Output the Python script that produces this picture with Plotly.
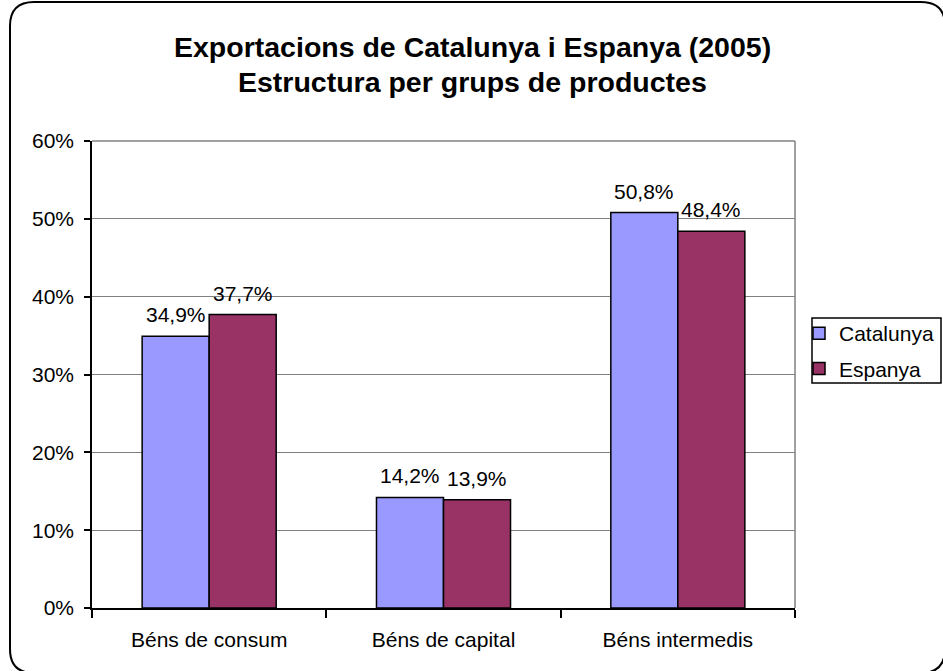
import plotly.graph_objects as go

categories = ["Béns de consum", "Béns de capital", "Béns intermedis"]
catalunya = [34.9, 14.2, 50.8]
espanya = [37.7, 13.9, 48.4]
series_names = ["Catalunya", "Espanya"]
colors = ["#9999FF", "#993366"]
title_lines = ["Exportacions de Catalunya i Espanya (2005)", "Estructura per grups de productes"]
y_ticks = [0, 10, 20, 30, 40, 50, 60]
y_ticktext = [f"{v}%" for v in y_ticks]

FONT = "Liberation Sans, Arial, sans-serif"
W, H = 943, 671
L, R, T, B = 92, 795, 141, 608
BARGAP = 0.428

def fmt(v):
    return f"{v:.1f}".replace(".", ",") + "%"

def px(x):
    return (x - L) / (R - L)

def py(y):
    return (B - y) / (B - T)

fig = go.Figure()
for name, vals, col in zip(series_names, [catalunya, espanya], colors):
    fig.add_trace(go.Bar(
        x=categories, y=vals, name=name, legendgroup=name,
        marker=dict(color=col, line=dict(color="black", width=1.5)),
    ))

# data labels
half = (1 - BARGAP) / 2
for k, vals in enumerate([catalunya, espanya]):
    off = -half / 2 if k == 0 else half / 2
    for i, v in enumerate(vals):
        fig.add_annotation(x=i + off, y=v, xref="x", yref="y", text=fmt(v),
                           showarrow=False, yanchor="bottom", yshift=8,
                           font=dict(family=FONT, size=21, color="black"))

# title lines
for line, yc in zip(title_lines, [47, 82]):
    fig.add_annotation(x=0.5, xref="paper", y=py(yc), yref="paper",
                       xanchor="center", yanchor="middle", showarrow=False,
                       text=f"<b>{line}</b>",
                       font=dict(family=FONT, size=28.5, color="black"))
# center title on the figure width
for a in fig.layout.annotations[-2:]:
    a.x = px(W / 2 + 1)

# outer rounded border
x0, y0, x1, y1, r = 10, 2, 945, 673, 24
path = (f"M {px(x0)},{py(y0 + r)} Q {px(x0)},{py(y0)} {px(x0 + r)},{py(y0)} "
        f"L {px(x1 - r)},{py(y0)} Q {px(x1)},{py(y0)} {px(x1)},{py(y0 + r)} "
        f"L {px(x1)},{py(y1 - r)} Q {px(x1)},{py(y1)} {px(x1 - r)},{py(y1)} "
        f"L {px(x0 + r)},{py(y1)} Q {px(x0)},{py(y1)} {px(x0)},{py(y1 - r)} Z")
fig.add_shape(type="path", path=path, xref="paper", yref="paper",
              line=dict(color="black", width=2), layer="below")
# right and top plot border (gray)
fig.add_shape(type="line", xref="paper", yref="paper", x0=1, x1=1, y0=0, y1=1,
              line=dict(color="#808080", width=1.5))
fig.add_shape(type="line", xref="paper", yref="paper", x0=0, x1=1, y0=1, y1=1,
              line=dict(color="#808080", width=1.5))
# legend frame
fig.add_shape(type="rect", xref="paper", yref="paper",
              x0=px(812), x1=px(941), y0=py(383), y1=py(318),
              line=dict(color="black", width=1.5), fillcolor="rgba(0,0,0,0)")

fig.update_layout(
    width=W, height=H,
    margin=dict(l=L, r=W - R, t=T, b=H - B, autoexpand=False),
    paper_bgcolor="white", plot_bgcolor="white",
    font=dict(family=FONT, size=21, color="black"),
    barmode="group", bargap=BARGAP, bargroupgap=0,
    showlegend=True,
    legend=dict(xref="container", x=799 / W, xanchor="left",
                yref="container", y=1 - 313 / H, yanchor="top",
                borderwidth=0, bgcolor="rgba(0,0,0,0)",
                font=dict(family=FONT, size=21, color="black"),
                traceorder="grouped", tracegroupgap=5, itemwidth=30),
    xaxis=dict(type="category", showline=True, linecolor="black", linewidth=1.5,
               ticks="outside", tickson="boundaries", ticklen=8, tickcolor="black",
               tickwidth=1.5, showgrid=False, ticklabelstandoff=12, automargin=False,
               tickfont=dict(family=FONT, size=21, color="black")),
    yaxis=dict(range=[0, 60], tickvals=y_ticks, ticktext=y_ticktext,
               showline=True, linecolor="black", linewidth=1.5,
               ticks="outside", ticklen=6, tickcolor="black", tickwidth=1.5,
               showgrid=True, gridcolor="#808080", gridwidth=1, zeroline=False,
               ticklabelstandoff=6, automargin=False,
               tickfont=dict(family=FONT, size=21, color="black")),
)

fig.write_html("out.html",
               config={"displayModeBar": False, "responsive": False},
               post_script="document.body.style.margin='0';document.body.style.overflow='hidden';")
